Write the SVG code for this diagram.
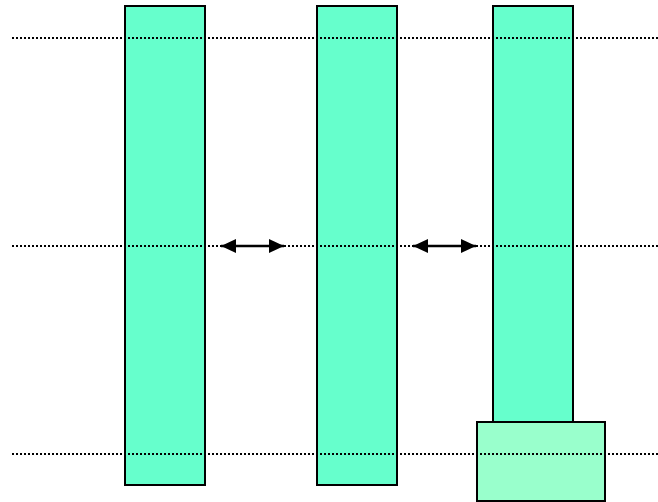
<svg xmlns="http://www.w3.org/2000/svg" width="658" height="502" viewBox="0 0 658 502">
<style>
.col{fill:#66FFCC;stroke:#000;stroke-width:2}
.box{fill:#99FFCC;stroke:#000;stroke-width:2}
.dot{stroke:#000;stroke-width:2;stroke-dasharray:2 2;fill:none}
.arr{stroke:#000;stroke-width:2.5;fill:none}
</style>
<defs>
<marker id="ah" viewBox="0 0 10 10" refX="10" refY="5" markerWidth="15" markerHeight="14" orient="auto-start-reverse" markerUnits="userSpaceOnUse" preserveAspectRatio="none">
<path d="M0,0 L10,5 L0,10 z" fill="#000"/>
</marker>
</defs>
<g id="col1"><rect class="col" x="125" y="6" width="80" height="479"/></g>
<g id="col2"><rect class="col" x="317" y="6" width="80" height="479"/></g>
<g id="col3"><rect class="col" x="493" y="6" width="80" height="416"/></g>
<g id="base"><rect class="box" x="477" y="422" width="128" height="79"/></g>
<g id="connectors">
<line class="dot" x1="12" y1="38" x2="658" y2="38"/>
<line class="dot" x1="12" y1="246" x2="658" y2="246"/>
<line class="dot" x1="12" y1="454" x2="658" y2="454"/>
<line class="arr" x1="221" y1="246" x2="284" y2="246" marker-start="url(#ah)" marker-end="url(#ah)"/>
<line class="arr" x1="413" y1="246" x2="476" y2="246" marker-start="url(#ah)" marker-end="url(#ah)"/>
</g>
</svg>
